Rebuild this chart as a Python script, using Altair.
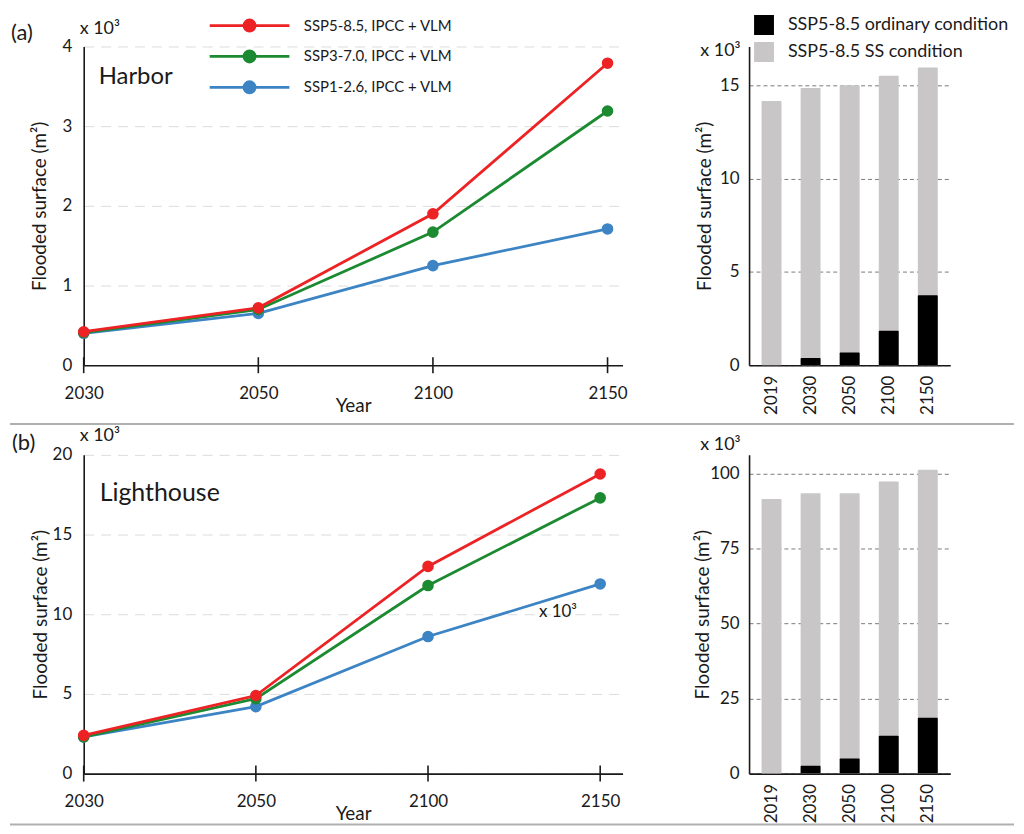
import json
import altair as alt
import pandas as pd

# ---------------- data ----------------
years = ["2030", "2050", "2100", "2150"]
series = ["SSP5-8.5, IPCC + VLM", "SSP3-7.0, IPCC + VLM", "SSP1-2.6, IPCC + VLM"]
colors = ["#ED2224", "#1B8A30", "#3C84C4"]

harbor_ssp585 = [0.42, 0.72, 1.90, 3.79]
harbor_ssp370 = [0.41, 0.70, 1.67, 3.19]
harbor_ssp126 = [0.40, 0.65, 1.25, 1.71]

light_ssp585 = [2.4, 4.9, 13.0, 18.8]
light_ssp370 = [2.3, 4.7, 11.8, 17.3]
light_ssp126 = [2.3, 4.2, 8.6, 11.9]

bar_years = ["2019", "2030", "2050", "2100", "2150"]
bar_series = ["SSP5-8.5 ordinary condition", "SSP5-8.5 SS condition"]
bar_colors = ["#000000", "#C8C6C7"]
harbor_ordinary = [0.0, 0.38, 0.68, 1.85, 3.75]
harbor_ss = [14.15, 14.85, 15.0, 15.5, 15.95]
light_ordinary = [0.0, 2.6, 5.0, 12.6, 18.6]
light_ss = [91.6, 93.5, 93.5, 97.4, 101.3]

FONT = "Lato"
INK = "#1a1a1a"
LINE_W = 541
ROW_H = 320
BAR_W = 202


def line_df(vals_by_series):
    rows = []
    # draw order: blue, green, red (red on top)
    for s, vals in reversed(list(zip(series, vals_by_series))):
        for i, (yr, v) in enumerate(zip(years, vals)):
            rows.append({"series": s, "idx": i, "year": yr, "value": v})
    return pd.DataFrame(rows)


def bar_df(ordinary, ss):
    rows = []
    for yr, v in zip(bar_years, ss):
        rows.append({"year": yr, "cond": bar_series[1], "value": v})
    for yr, v in zip(bar_years, ordinary):
        rows.append({"year": yr, "cond": bar_series[0], "value": v})
    return pd.DataFrame(rows)


def text_layer(label, x, y, size):
    return alt.Chart(pd.DataFrame({"label": [label]})).mark_text(
        align="left", baseline="middle", fontSize=size, font=FONT, color=INK
    ).encode(text="label:N", x=alt.value(x), y=alt.value(y))


def separator(y):
    return alt.Chart(pd.DataFrame({"k": [0]})).mark_rule(
        color="#b0b0b0", strokeWidth=2
    ).encode(x=alt.value(-74), x2=alt.value(934), y=alt.value(y))


LEG_PATH = "M-1,0L1,0M0.14,0A0.14,0.14,0,1,1,-0.14,0A0.14,0.14,0,1,1,0.14,0Z"


def line_panel(df, ymax, yvals, xmax, show_legend, title_pad, extra):
    label_expr = json.dumps(years) + "[datum.value]"
    x = alt.X(
        "idx:Q",
        scale=alt.Scale(domain=[0, xmax], nice=False, zero=False),
        axis=alt.Axis(
            values=[0, 1, 2, 3], labelExpr=label_expr, title="Year",
            ticks=False, grid=False, labelPadding=20, titlePadding=-5,
            labelFlush=False, labelOverlap=False,
        ),
    )
    y = alt.Y(
        "value:Q",
        scale=alt.Scale(domain=[0, ymax], nice=False),
        axis=alt.Axis(
            values=yvals, format="d", title="Flooded surface (m²)", ticks=False,
            labelPadding=12, titlePadding=title_pad,
            gridDash=[10, 7], gridColor="#dcdcdc", gridWidth=1,
        ),
    )
    if show_legend:
        leg = alt.Legend(
            title=None, orient="none", legendX=125, legendY=-36.5,
            symbolType=LEG_PATH, symbolSize=6400, symbolStrokeWidth=2.8,
            clipHeight=31, rowPadding=0, labelOffset=13, labelFontSize=15,
            labelFont=FONT, labelColor=INK, padding=0, symbolOpacity=1,
            labelLimit=400,
        )
    else:
        leg = None
    lines = alt.Chart(df).mark_line(strokeWidth=2.8).encode(
        x=x, y=y,
        stroke=alt.Stroke("series:N", scale=alt.Scale(domain=series, range=colors), legend=leg),
    )
    pts = alt.Chart(df).mark_circle(size=135, opacity=1).encode(
        x="idx:Q", y="value:Q",
        fill=alt.Fill("series:N", scale=alt.Scale(domain=series, range=colors), legend=leg),
    )
    tdf = pd.DataFrame({"idx": list(range(len(years)))})
    tks = alt.Chart(tdf).mark_rule(strokeWidth=1.6, color=INK).encode(
        x="idx:Q", y=alt.value(ROW_H - 8), y2=alt.value(ROW_H + 8)
    )
    return alt.layer(lines, pts, tks, *extra).properties(width=LINE_W, height=ROW_H)


def bar_panel(df, ymax, yvals, show_legend, title_pad, extra):
    if show_legend:
        leg = alt.Legend(
            title=None, orient="none", legendX=5, legendY=-34.75,
            symbolType="square", symbolSize=400, symbolStrokeWidth=0,
            clipHeight=26.5, rowPadding=0, labelOffset=14, labelFontSize=18,
            labelFont=FONT, labelColor=INK, padding=0, symbolOpacity=1,
            labelLimit=400,
        )
    else:
        leg = None
    bars = alt.Chart(df).mark_bar(cornerRadius=1).encode(
        x=alt.X(
            "year:N", sort=bar_years,
            scale=alt.Scale(paddingInner=0.49, paddingOuter=0.32),
            axis=alt.Axis(title=None, labelAngle=-90, ticks=False, labelPadding=10),
        ),
        y=alt.Y(
            "value:Q", stack=None,
            scale=alt.Scale(domain=[0, ymax], nice=False),
            axis=alt.Axis(
                values=yvals, format="d", title="Flooded surface (m²)", ticks=False,
                labelPadding=10, titlePadding=title_pad,
                gridDash=[4, 3], gridColor="#7a7a7a", gridWidth=1,
            ),
        ),
        color=alt.Color("cond:N", scale=alt.Scale(domain=bar_series, range=bar_colors), legend=leg),
    )
    return alt.layer(bars, *extra).properties(width=BAR_W, height=ROW_H)


tl = line_panel(
    line_df([harbor_ssp585, harbor_ssp370, harbor_ssp126]), 4, [0, 1, 2, 3, 4], 3.086, True, 12,
    [text_layer("(a)", -73, -14, 22), text_layer("x 10³", -4, -18, 18),
     text_layer("Harbor", 15, 31, 24), separator(379)],
)
tr = bar_panel(
    bar_df(harbor_ordinary, harbor_ss), 17.07, [0, 5, 10, 15], True, 5,
    [text_layer("x 10³", -49, 5, 18)],
)
bl = line_panel(
    line_df([light_ssp585, light_ssp370, light_ssp126]), 20, [0, 5, 10, 15, 20], 3.13, False, 2,
    [text_layer("(b)", -72, -12, 22), text_layer("x 10³", -4, -19, 18),
     text_layer("Lighthouse", 16, 38, 25), text_layer("x 10³", 457, 158, 17),
     separator(371)],
)
br = bar_panel(
    bar_df(light_ordinary, light_ss), 106.3, [0, 25, 50, 75, 100], False, -3,
    [text_layer("x 10³", -49, -10, 18)],
)

res = dict(color="independent", fill="independent", stroke="independent")

chart = (
    alt.concat(
        tl, tr, bl, br, columns=2, bounds="flush", padding=0,
        spacing={"row": 90, "column": 127},
    )
    .resolve_scale(**res)
    .configure_axis(
        labelFont=FONT, titleFont=FONT, labelFontSize=17, titleFontSize=19,
        titleFontWeight="normal", labelColor=INK, titleColor=INK,
        domainColor=INK, domainWidth=1.6,
    )
    .configure_view(stroke="transparent")
    .configure_legend(labelFont=FONT)
)

chart.save("out.html", embed_options={"renderer": "svg", "actions": False})
